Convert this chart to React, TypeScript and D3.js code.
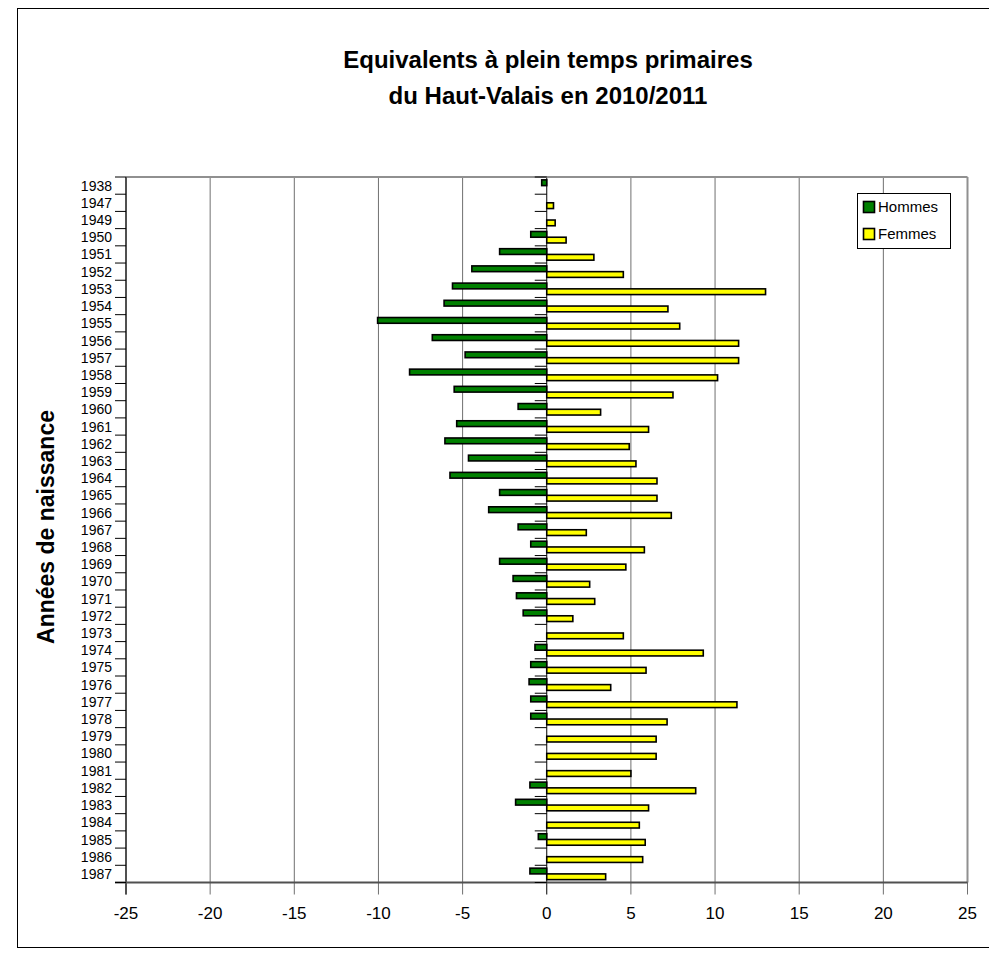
import React from 'react';
import * as d3 from 'd3';

const years = [
  '1938', '1947', '1949', '1950', '1951', '1952', '1953', '1954', '1955', '1956',
  '1957', '1958', '1959', '1960', '1961', '1962', '1963', '1964', '1965', '1966',
  '1967', '1968', '1969', '1970', '1971', '1972', '1973', '1974', '1975', '1976',
  '1977', '1978', '1979', '1980', '1981', '1982', '1983', '1984', '1985', '1986', '1987',
];

// Hommes drawn to the left (negative), as on the axis
const hommes = [
  -0.3, 0, 0, -0.95, -2.8, -4.45, -5.6, -6.1, -10.05, -6.8,
  -4.85, -8.15, -5.5, -1.7, -5.35, -6.05, -4.65, -5.75, -2.8, -3.45,
  -1.7, -0.95, -2.8, -2.0, -1.8, -1.4, 0, -0.7, -0.95, -1.05,
  -0.95, -0.95, 0, 0, 0, -1.0, -1.85, 0, -0.5, 0, -1.0,
];

const femmes = [
  0, 0.4, 0.5, 1.15, 2.8, 4.55, 13.0, 7.2, 7.9, 11.4,
  11.4, 10.15, 7.5, 3.2, 6.05, 4.9, 5.3, 6.55, 6.55, 7.4,
  2.35, 5.8, 4.7, 2.55, 2.85, 1.55, 4.55, 9.3, 5.9, 3.8,
  11.3, 7.15, 6.5, 6.5, 5.0, 8.85, 6.05, 5.5, 5.85, 5.7, 3.5,
];

const xTicks = [-25, -20, -15, -10, -5, 0, 5, 10, 15, 20, 25];

const series = [
  { name: 'Hommes', values: hommes, color: '#008000' },
  { name: 'Femmes', values: femmes, color: '#FFFF00' },
];

const W = 989;
const H = 960;
const plot = { left: 126, right: 967.5, top: 177, bottom: 882.5 };
const font = 'Arial, "Liberation Sans", sans-serif';

export default function App() {
  const x = d3.scaleLinear().domain([-25, 25]).range([plot.left, plot.right]);
  const y = d3.scaleBand().domain(years).range([plot.top, plot.bottom]);
  const step = y.step();
  const inner = d3.scaleBand()
    .domain(series.map(s => s.name))
    .range([0, step])
    .paddingOuter(0.5);

  const boundaries = d3.range(years.length + 1).map(i => plot.top + i * step);

  return (
    <svg width={W} height={H} style={{ position: 'absolute', left: 0, top: 0, background: '#fff' }}
      fontFamily={font}>
      <rect x={17.5} y={8.5} width={990} height={939} fill="#fff" stroke="#000" strokeWidth={1} />

      {/* title */}
      <text x={548} y={68} textAnchor="middle" fontSize={24} fontWeight="bold">
        Equivalents à plein temps primaires
      </text>
      <text x={548} y={104} textAnchor="middle" fontSize={24} fontWeight="bold">
        du Haut-Valais en 2010/2011
      </text>

      {/* gridlines */}
      {xTicks.map(t => (
        <line key={t} x1={x(t)} x2={x(t)} y1={plot.top} y2={plot.bottom + 12}
          stroke={t === 0 ? '#000' : '#707070'} strokeWidth={1} />
      ))}

      {/* plot frame */}
      <line x1={plot.left} x2={plot.right} y1={plot.top} y2={plot.top} stroke="#909090" strokeWidth={2} />
      <line x1={plot.right} x2={plot.right} y1={plot.top} y2={plot.bottom} stroke="#909090" strokeWidth={2} />
      <line x1={plot.left} x2={plot.left} y1={plot.top} y2={plot.bottom + 12} stroke="#505050" strokeWidth={2} />
      <line x1={plot.left - 11} x2={plot.right} y1={plot.bottom} y2={plot.bottom} stroke="#505050" strokeWidth={2} />

      {/* category ticks */}
      {boundaries.map((b, i) => (
        <g key={i}>
          <line x1={plot.left - 11} x2={plot.left} y1={b} y2={b} stroke="#000" strokeWidth={1} />
          <line x1={x(0) - 12} x2={x(0)} y1={b} y2={b} stroke="#000" strokeWidth={1} />
        </g>
      ))}

      {/* bars */}
      {series.map(s => (
        <g key={s.name}>
          {s.values.map((v, i) => v === 0 ? null : (
            <rect key={i}
              x={Math.min(x(0), x(v))}
              y={(y(years[i]) ?? 0) + (inner(s.name) ?? 0)}
              width={Math.abs(x(v) - x(0))}
              height={inner.bandwidth()}
              fill={s.color} stroke="#000" strokeWidth={1.6} />
          ))}
        </g>
      ))}

      {/* y labels */}
      {years.map(yr => (
        <text key={yr} x={112} y={(y(yr) ?? 0) + step / 2} dy="0.36em" textAnchor="end" fontSize={14}>
          {yr}
        </text>
      ))}

      {/* x labels */}
      {xTicks.map(t => (
        <text key={t} x={x(t)} y={919} textAnchor="middle" fontSize={17}>
          {t}
        </text>
      ))}

      {/* axis title */}
      <text transform={`translate(54, 527) rotate(-90)`} textAnchor="middle" fontSize={23} fontWeight="bold">
        Années de naissance
      </text>

      {/* legend */}
      <rect x={857.5} y={193.5} width={93} height={55} fill="#fff" stroke="#000" strokeWidth={1} />
      {series.map((s, i) => (
        <g key={s.name} transform={`translate(863, ${201 + i * 27})`}>
          <rect x={0.5} y={0.5} width={11} height={11} fill={s.color} stroke="#000" strokeWidth={1.6} />
          <text x={15} y={6} dy="0.36em" fontSize={15}>{s.name}</text>
        </g>
      ))}
    </svg>
  );
}
